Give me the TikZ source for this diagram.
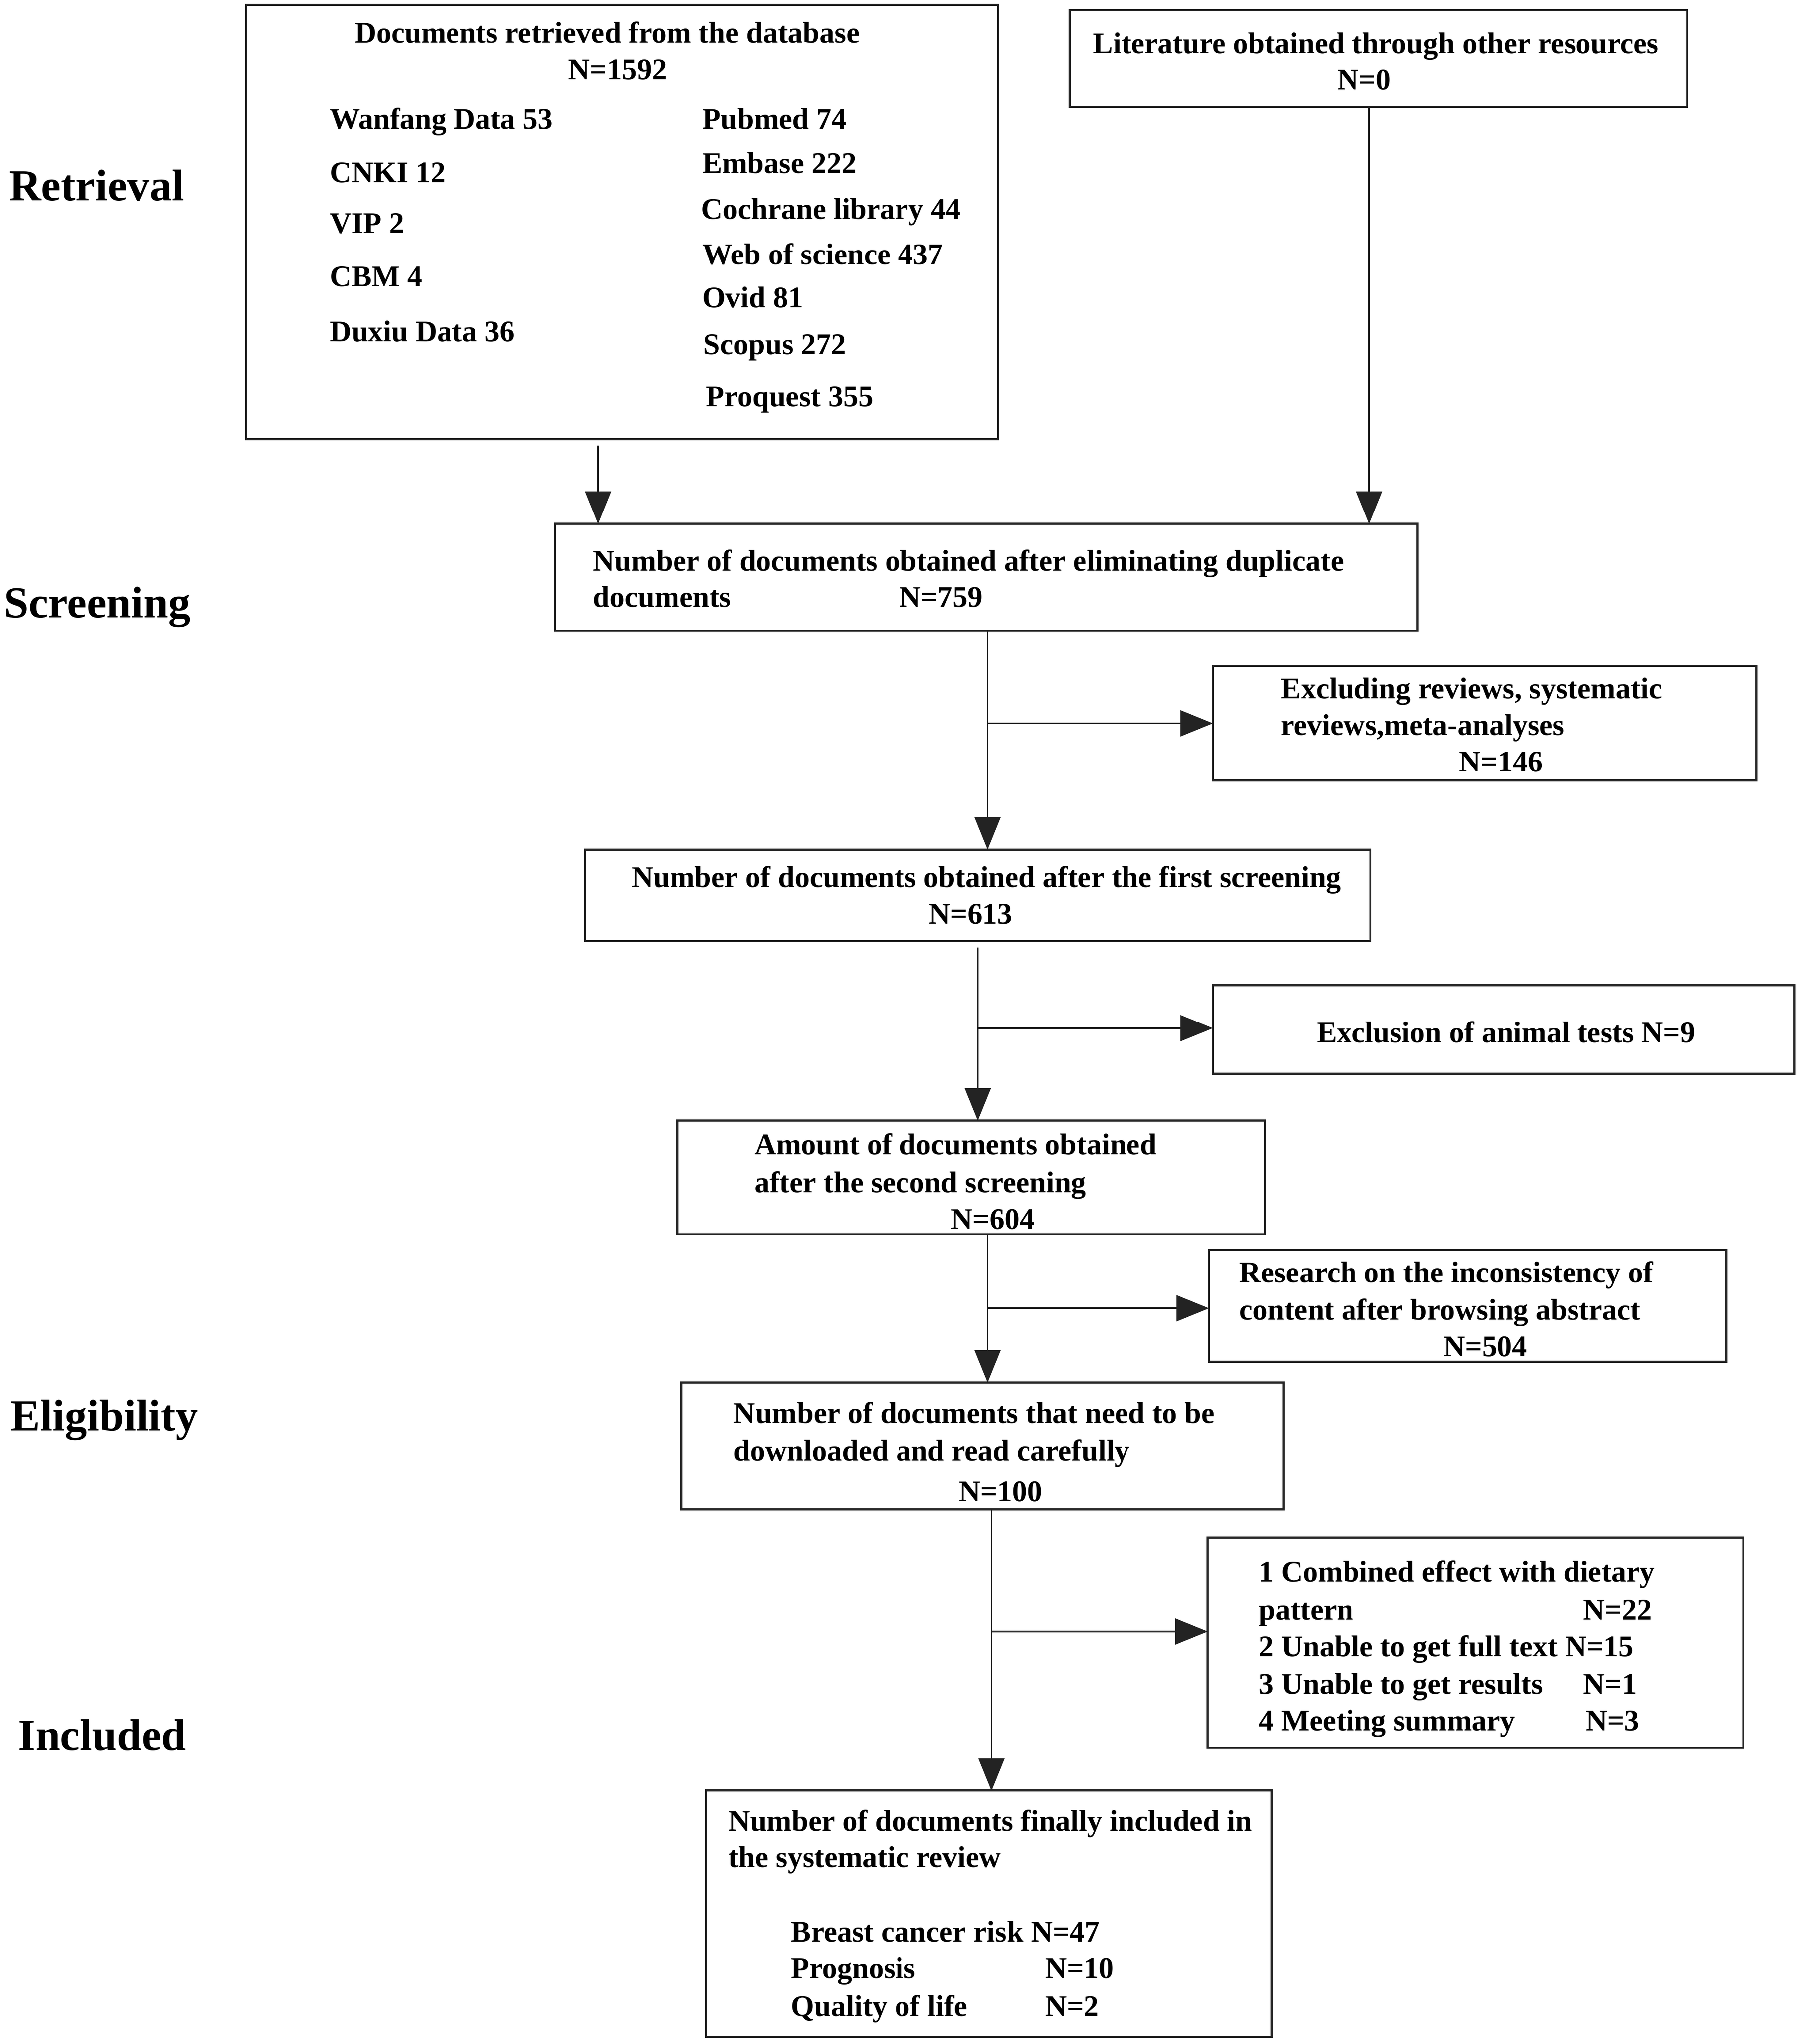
\documentclass[tikz,border=0pt]{standalone}
\usepackage{fontspec}
\setmainfont{Liberation Serif}
\usetikzlibrary{arrows.meta}
\definecolor{ln}{RGB}{35,35,35}
\begin{document}
\begin{tikzpicture}[x=1pt,y=-1pt,
  box/.style={draw=ln,line width=1.6pt,rectangle,inner sep=0pt,outer sep=0pt},
  conn/.style={draw=ln,line width=1.2pt},
  arr/.style={conn,-{Triangle[length=25pt,width=20pt]}},
  txt/.style={inner sep=0pt,font=\fontsize{23}{27}\selectfont\bfseries,text height=20pt,text depth=4pt},
  tl/.style={txt,anchor=west},
  side/.style={inner sep=0pt,anchor=west,font=\fontsize{34}{39}\selectfont\bfseries,text height=30pt,text depth=2pt}]
\useasboundingbox (0,0) rectangle (1382,1568.5);

% boxes
\node[box,minimum width=577pt,minimum height=333pt] (db) at (477.5,170.5) {};
\node[box,minimum width=474pt,minimum height=74pt] (oth) at (1058,45) {};
\node[box,minimum width=662pt,minimum height=82pt] (ded) at (757,443) {};
\node[box,minimum width=417pt,minimum height=88pt] (ex1) at (1139.5,555) {};
\node[box,minimum width=603pt,minimum height=70pt] (s1) at (750.5,687) {};
\node[box,minimum width=446pt,minimum height=68pt] (ex2) at (1154,790) {};
\node[box,minimum width=451pt,minimum height=87pt] (s2) at (745.5,903.5) {};
\node[box,minimum width=397pt,minimum height=86pt] (ex3) at (1126.5,1002) {};
\node[box,minimum width=462pt,minimum height=97pt] (s3) at (754,1109.5) {};
\node[box,minimum width=411pt,minimum height=161pt] (ex4) at (1132.5,1260.5) {};
\node[box,minimum width=434pt,minimum height=189pt] (inc) at (759,1468.5) {};

% side labels
\node[side] (lr) at (7,140) {Retrieval};
\node[side] (ls) at (3,460) {Screening};
\node[side] (le) at (8,1084) {Eligibility};
\node[side] (li) at (14,1329) {Included};

% database box texts
\node[txt] (t1) at (466,25) {Documents retrieved from the database};
\node[txt] (t2) at (474,53) {N=1592};
\node[tl] (w1) at (253,91) {Wanfang Data 53};
\node[tl] (w2) at (253,132) {CNKI 12};
\node[tl] (w3) at (253,171) {VIP 2};
\node[tl] (w4) at (253,212) {CBM 4};
\node[tl] (w5) at (253,254) {Duxiu Data 36};
\node[tl] (e1) at (539,91) {Pubmed 74};
\node[tl] (e2) at (539,125) {Embase 222};
\node[tl] (e3) at (538,160) {Cochrane library 44};
\node[tl] (e4) at (539,195) {Web of science 437};
\node[tl] (e5) at (539,228) {Ovid 81};
\node[tl] (e6) at (540,264) {Scopus 272};
\node[tl] (e7) at (542,304) {Proquest 355};

% other resources
\node[txt] (o1) at (1056,33) {Literature obtained through other resources};
\node[txt] (o2) at (1047,61) {N=0};

% duplicates
\node[tl] (d1) at (455,430) {Number of documents obtained after eliminating duplicate};
\node[tl] (d2) at (455,458) {documents};
\node[tl] (d3) at (690,458) {N=759};

% exclusion 1
\node[tl] (x11) at (983,528) {Excluding reviews, systematic};
\node[tl] (x12) at (983,556) {reviews,meta-analyses};
\node[txt] (x13) at (1152,584) {N=146};

% first screening
\node[txt] (f1) at (757,673) {Number of documents obtained after the first screening};
\node[txt] (f2) at (745,701) {N=613};

% exclusion 2
\node[txt] (x21) at (1156,792) {Exclusion of animal tests N=9};

% second screening
\node[tl] (g1) at (579,878) {Amount of documents obtained};
\node[tl] (g2) at (579,907) {after the second screening};
\node[txt] (g3) at (762,935) {N=604};

% exclusion 3
\node[tl] (x31) at (951,976) {Research on the inconsistency of};
\node[tl] (x32) at (951,1005) {content after browsing abstract};
\node[txt] (x33) at (1140,1033) {N=504};

% full text
\node[tl] (h1) at (563,1084) {Number of documents that need to be};
\node[tl] (h2) at (563,1113) {downloaded and read carefully};
\node[txt] (h3) at (768,1144) {N=100};

% exclusion 4
\node[tl] (x41) at (966,1206) {1 Combined effect with dietary};
\node[tl] (x42) at (966,1235) {pattern};
\node[tl] (x43) at (1215,1235) {N=22};
\node[tl] (x44) at (966,1263) {2 Unable to get full text N=15};
\node[tl] (x45) at (966,1292) {3 Unable to get results};
\node[tl] (x46) at (1215,1292) {N=1};
\node[tl] (x47) at (966,1320) {4 Meeting summary};
\node[tl] (x48) at (1217,1320) {N=3};

% included
\node[tl] (i1) at (559,1397) {Number of documents finally included in};
\node[tl] (i2) at (559,1425) {the systematic review};
\node[tl] (i3) at (607,1482) {Breast cancer risk N=47};
\node[tl] (i4) at (607,1510) {Prognosis};
\node[tl] (i5) at (802,1510) {N=10};
\node[tl] (i6) at (607,1539) {Quality of life};
\node[tl] (i7) at (802,1539) {N=2};

% connector start points
\coordinate (c1) at ([xshift=-18.5pt,yshift=-5pt]db.south);
\coordinate (c2) at ([xshift=-7pt]oth.south);
\coordinate (c3) at ([xshift=1pt]ded.south);
\coordinate (c4) at ([yshift=-5pt]s1.south);
\coordinate (c5) at ([xshift=12.5pt]s2.south);
\coordinate (c6) at ([xshift=7pt]s3.south);
\coordinate (b2) at ([yshift=1pt]ex2.west);
\coordinate (b3) at ([yshift=-2pt]ex3.west);
\coordinate (b4) at ([yshift=8.5pt]ex4.west);

% connectors
\draw[arr] (c1) -- (c1 |- ded.north);
\draw[arr] (c2) -- (c2 |- ded.north);

\draw[arr] (c3) -- (c3 |- s1.north);
\draw[arr] (ex1.west -| c3) -- (ex1.west);

\draw[arr] (c4) -- (c4 |- s2.north);
\draw[arr] (b2 -| c4) -- (b2);

\draw[arr] (c5) -- (c5 |- s3.north);
\draw[arr] (b3 -| c5) -- (b3);

\draw[arr] (c6) -- (c6 |- inc.north);
\draw[arr] (b4 -| c6) -- (b4);
\end{tikzpicture}
\end{document}
